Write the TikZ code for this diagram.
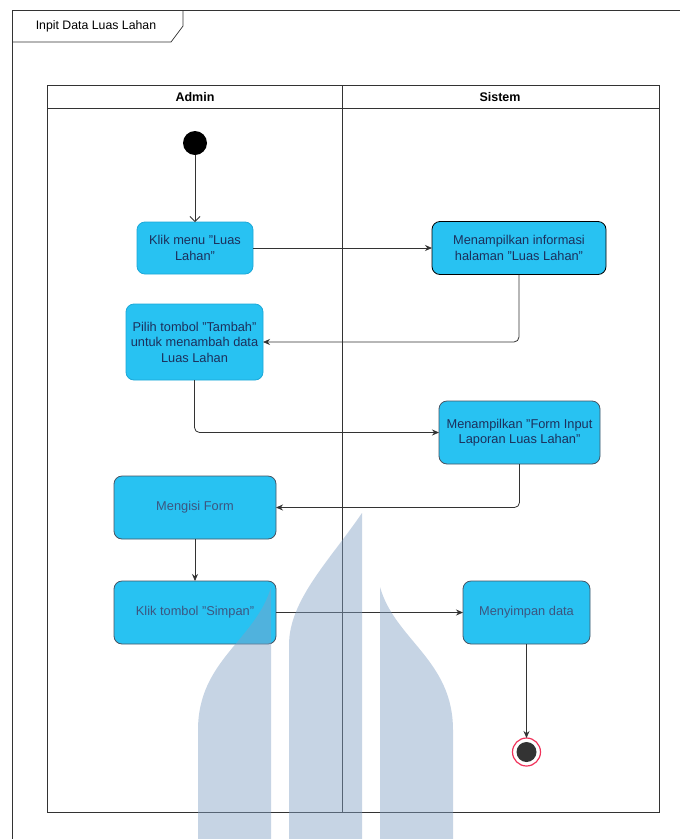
\documentclass[tikz,border=0pt]{standalone}
\usepackage{fontspec}
\setmainfont{Liberation Sans}
\usetikzlibrary{arrows.meta}
\definecolor{boxfill}{RGB}{40,194,242}
\definecolor{boxtext}{RGB}{28,48,92}
\definecolor{boxtextb}{RGB}{60,86,128}
\definecolor{lineg}{RGB}{51,51,51}
\definecolor{edgedark}{RGB}{70,84,100}
\definecolor{edgelight}{RGB}{28,168,216}
\definecolor{endred}{RGB}{240,50,90}
\definecolor{wmark}{RGB}{130,160,196}
\begin{document}
\begin{tikzpicture}[x=1pt,y=-1pt,
  actbox/.style={rectangle, rounded corners=8pt, fill=boxfill, draw=edgedark, line width=0.8pt,
    align=center, inner sep=0pt, outer sep=0pt, font=\fontsize{12.8}{15.5}\selectfont, text=boxtext},
  arr/.style={draw=lineg, line width=0.8pt, rounded corners=5pt, -{Stealth[length=7pt,width=6pt]}},
  hdr/.style={font=\fontsize{12.5}{14}\selectfont\bfseries, text=black, inner sep=0pt},
  frameline/.style={draw=lineg, line width=0.7pt}
]
\useasboundingbox (0,0) rectangle (680,839);
\fill[white] (0,0) rectangle (680,839);

% outer frame and tab
\draw[frameline] (12,839) -- (12,10) -- (680,10);
\draw[frameline] (12,42) -- (171,42) -- (183,26) -- (183,10);
\node[font=\fontsize{12.3}{14}\selectfont, inner sep=0pt] (title) at (96,26) {Inpit Data Luas Lahan};

% swimlanes
\draw[frameline, line width=0.9pt] (47,85) rectangle (659,812);
\draw[frameline, line width=0.9pt] (47,108) -- (659,108);
\draw[frameline, line width=0.9pt] (342,85) -- (342,812);
\node[hdr] (hadmin) at (195,97) {Admin};
\node[hdr] (hsistem) at (500,97) {Sistem};

% start
\node[circle, fill=black, minimum size=24pt, inner sep=0pt, outer sep=0pt] (start) at (195,143) {};

% activities
\node[actbox, draw=edgelight, minimum width=116pt, minimum height=52pt] (a1) at (195,248) {Klik menu "Luas\\Lahan"};
\node[actbox, draw=black, minimum width=174pt, minimum height=53pt] (a2) at (519,248) {Menampilkan informasi\\halaman "Luas Lahan"};
\node[actbox, draw=edgelight, minimum width=137pt, minimum height=76pt] (a3) at (194.5,342) {Pilih tombol "Tambah"\\untuk menambah data\\Luas Lahan};
\node[actbox, minimum width=161pt, minimum height=63pt] (a4) at (519.5,432.5) {Menampilkan "Form Input\\Laporan Luas Lahan"};
\node[actbox, text=boxtextb, minimum width=162pt, minimum height=63pt] (a5) at (195,507.5) {Mengisi Form};
\node[actbox, text=boxtextb, minimum width=162pt, minimum height=63pt] (a6) at (195,612.5) {Klik tombol "Simpan"};
\node[actbox, text=boxtextb, minimum width=127pt, minimum height=63pt] (a7) at (526.5,612.5) {Menyimpan data};

% end
\node[circle, draw=endred, fill=white, line width=1.2pt, minimum size=28pt, inner sep=0pt, outer sep=0pt] (end) at (526.5,752) {};
\node[circle, fill=lineg, minimum size=20pt, inner sep=0pt] (endin) at (end.center) {};

% connectors
\draw[draw=lineg, line width=0.8pt, -{Straight Barb[length=5pt,width=10pt]}] (start) -- (a1);
\draw[arr] (a1) -- (a2);
\draw[arr] (a2.south) |- (a3.east);
\draw[arr] (a3.south) |- (a4.west);
\draw[arr] (a4.south) |- (a5.east);
\draw[arr] (a5) -- (a6);
\draw[arr] (a6) -- (a7);
\draw[arr] (a7) -- (end);

% watermark
\fill[wmark, fill opacity=0.45]
  (271,839) -- (271,587) .. controls (256,640) and (198,660) .. (198,730) -- (198,839) -- cycle;
\fill[wmark, fill opacity=0.45]
  (289,839) -- (289,645) .. controls (289,600) and (330,560) .. (362,513) -- (362,839) -- cycle;
\fill[wmark, fill opacity=0.45]
  (380,839) -- (380,587) .. controls (395,640) and (453,660) .. (453,730) -- (453,839) -- cycle;
\end{tikzpicture}
\end{document}
